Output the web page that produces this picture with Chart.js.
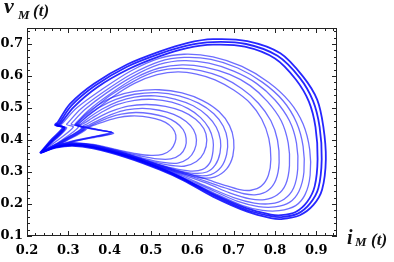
<!DOCTYPE html>
<html>
<head>
<meta charset="utf-8">
<script src="https://cdn.jsdelivr.net/npm/chart.js@4.4.0/dist/chart.umd.min.js"></script>
<style>
  body { margin: 0; background: #fff; }
  #wrap { width: 394px; height: 262px; }
</style>
</head>
<body>
<div id="wrap"><canvas id="chart" width="394" height="262"></canvas></div>
<script>
// ---- axis ticks ----
const xTicks = [0.2, 0.3, 0.4, 0.5, 0.6, 0.7, 0.8, 0.9];
const yTicks = [0.1, 0.2, 0.3, 0.4, 0.5, 0.6, 0.7];

// ---- trajectory loops (i_M, v_M) ----
// outer loops (return to the first notch)
const loopOuter1 = [[0.231,0.359],[0.27,0.376],[0.31,0.382],[0.36,0.374],[0.44,0.346],[0.52,0.308],[0.58,0.273],[0.65,0.223],[0.733,0.176],[0.79,0.156],[0.815,0.153],[0.86,0.165],[0.893,0.197],[0.914,0.245],[0.923,0.34],[0.917,0.441],[0.902,0.526],[0.868,0.598],[0.813,0.671],[0.733,0.709],[0.65,0.715],[0.587,0.703],[0.522,0.677],[0.442,0.636],[0.362,0.576],[0.304,0.513],[0.274,0.455],[0.268,0.447],[0.287,0.44],[0.258,0.40],[0.231,0.359]];
const loopOuter2 = [[0.233,0.36],[0.27,0.378],[0.31,0.384],[0.36,0.377],[0.44,0.349],[0.52,0.311],[0.58,0.276],[0.65,0.228],[0.73,0.182],[0.79,0.162],[0.815,0.159],[0.855,0.17],[0.885,0.202],[0.905,0.25],[0.913,0.34],[0.908,0.44],[0.892,0.522],[0.86,0.594],[0.806,0.663],[0.73,0.70],[0.65,0.706],[0.587,0.695],[0.522,0.67],[0.442,0.629],[0.365,0.57],[0.308,0.508],[0.277,0.452],[0.27,0.446],[0.29,0.438],[0.26,0.398],[0.233,0.36]];
const loopOuter3 = [[0.234,0.361],[0.27,0.379],[0.31,0.385],[0.36,0.378],[0.44,0.351],[0.52,0.314],[0.58,0.279],[0.65,0.232],[0.73,0.187],[0.79,0.167],[0.815,0.165],[0.85,0.175],[0.878,0.207],[0.896,0.255],[0.903,0.34],[0.898,0.44],[0.882,0.52],[0.85,0.59],[0.80,0.655],[0.727,0.692],[0.65,0.698],[0.587,0.687],[0.522,0.662],[0.445,0.621],[0.37,0.565],[0.313,0.503],[0.28,0.45],[0.273,0.445],[0.292,0.437],[0.262,0.397],[0.234,0.361]];

// middle loops
const loopMid1 = [[0.234,0.36],[0.27,0.378],[0.31,0.384],[0.36,0.377],[0.44,0.35],[0.52,0.313],[0.58,0.279],[0.65,0.236],[0.72,0.196],[0.77,0.18],[0.81,0.179],[0.85,0.195],[0.873,0.23],[0.885,0.29],[0.884,0.37],[0.868,0.45],[0.835,0.52],[0.785,0.58],[0.72,0.63],[0.65,0.66],[0.58,0.668],[0.52,0.655],[0.45,0.615],[0.38,0.557],[0.32,0.50],[0.284,0.45],[0.277,0.444],[0.296,0.437],[0.264,0.396],[0.234,0.36]];
const loopMid2 = [[0.235,0.361],[0.27,0.379],[0.31,0.385],[0.36,0.378],[0.44,0.351],[0.52,0.315],[0.58,0.282],[0.65,0.242],[0.71,0.208],[0.76,0.192],[0.80,0.191],[0.835,0.205],[0.858,0.24],[0.87,0.30],[0.868,0.38],[0.852,0.455],[0.82,0.522],[0.77,0.58],[0.71,0.625],[0.645,0.652],[0.58,0.658],[0.52,0.645],[0.45,0.604],[0.385,0.55],[0.33,0.497],[0.30,0.455],[0.296,0.448],[0.312,0.44],[0.27,0.395],[0.235,0.361]];
const loopMid3 = [[0.235,0.362],[0.27,0.38],[0.31,0.386],[0.36,0.379],[0.44,0.352],[0.52,0.317],[0.58,0.286],[0.64,0.252],[0.70,0.22],[0.75,0.203],[0.79,0.201],[0.822,0.215],[0.845,0.25],[0.855,0.31],[0.852,0.39],[0.835,0.46],[0.80,0.525],[0.755,0.577],[0.70,0.615],[0.64,0.64],[0.58,0.648],[0.52,0.636],[0.455,0.598],[0.39,0.545],[0.34,0.495],[0.31,0.455],[0.307,0.449],[0.325,0.441],[0.28,0.396],[0.235,0.362]];
const loopMid4 = [[0.236,0.362],[0.27,0.38],[0.31,0.386],[0.36,0.38],[0.44,0.353],[0.52,0.318],[0.58,0.29],[0.64,0.262],[0.69,0.235],[0.74,0.216],[0.775,0.214],[0.805,0.228],[0.826,0.262],[0.835,0.32],[0.832,0.39],[0.815,0.46],[0.782,0.52],[0.74,0.57],[0.69,0.605],[0.63,0.628],[0.575,0.635],[0.52,0.625],[0.46,0.593],[0.40,0.543],[0.35,0.494],[0.318,0.452],[0.316,0.447],[0.333,0.438],[0.285,0.397],[0.236,0.362]];
const loopMid5 = [[0.236,0.362],[0.27,0.38],[0.31,0.387],[0.36,0.38],[0.44,0.354],[0.52,0.32],[0.58,0.294],[0.635,0.27],[0.68,0.25],[0.725,0.232],[0.755,0.229],[0.783,0.242],[0.802,0.275],[0.81,0.33],[0.806,0.40],[0.79,0.46],[0.76,0.515],[0.72,0.56],[0.67,0.597],[0.62,0.617],[0.57,0.624],[0.515,0.615],[0.46,0.585],[0.40,0.538],[0.355,0.49],[0.32,0.452],[0.317,0.447],[0.335,0.438],[0.285,0.398],[0.236,0.362]];
const loopMid6 = [[0.237,0.363],[0.27,0.381],[0.31,0.387],[0.36,0.381],[0.44,0.355],[0.52,0.322],[0.58,0.298],[0.63,0.279],[0.675,0.26],[0.715,0.245],[0.742,0.243],[0.767,0.256],[0.784,0.29],[0.79,0.34],[0.785,0.405],[0.768,0.465],[0.74,0.515],[0.70,0.556],[0.655,0.588],[0.61,0.606],[0.565,0.613],[0.515,0.604],[0.46,0.577],[0.405,0.533],[0.36,0.488],[0.325,0.452],[0.32,0.447],[0.337,0.438],[0.287,0.398],[0.237,0.363]];

// smaller loops (second notch)
const loopSmall1 = [[0.236,0.362],[0.27,0.381],[0.31,0.387],[0.36,0.38],[0.44,0.354],[0.51,0.323],[0.57,0.297],[0.62,0.282],[0.655,0.285],[0.683,0.31],[0.698,0.35],[0.70,0.40],[0.69,0.445],[0.665,0.488],[0.625,0.523],[0.575,0.547],[0.52,0.557],[0.46,0.552],[0.41,0.535],[0.37,0.508],[0.34,0.478],[0.32,0.45],[0.318,0.447],[0.338,0.436],[0.29,0.398],[0.236,0.362]];
const loopSmall2 = [[0.237,0.363],[0.27,0.382],[0.31,0.388],[0.36,0.381],[0.44,0.355],[0.51,0.325],[0.565,0.302],[0.612,0.289],[0.645,0.292],[0.67,0.316],[0.683,0.355],[0.685,0.40],[0.675,0.443],[0.652,0.482],[0.615,0.515],[0.568,0.538],[0.515,0.548],[0.46,0.543],[0.415,0.527],[0.375,0.502],[0.345,0.474],[0.325,0.45],[0.32,0.446],[0.34,0.436],[0.292,0.398],[0.237,0.363]];
const loopSmall3 = [[0.237,0.363],[0.27,0.382],[0.31,0.388],[0.36,0.382],[0.44,0.356],[0.505,0.328],[0.56,0.307],[0.603,0.296],[0.635,0.30],[0.656,0.323],[0.667,0.36],[0.668,0.40],[0.658,0.44],[0.636,0.476],[0.602,0.507],[0.558,0.528],[0.51,0.538],[0.46,0.534],[0.42,0.52],[0.382,0.497],[0.352,0.472],[0.33,0.45],[0.322,0.446],[0.342,0.436],[0.295,0.399],[0.237,0.363]];
const loopSmall4 = [[0.238,0.363],[0.27,0.382],[0.31,0.389],[0.36,0.382],[0.44,0.357],[0.50,0.331],[0.553,0.312],[0.595,0.303],[0.625,0.308],[0.643,0.33],[0.65,0.365],[0.65,0.40],[0.64,0.437],[0.62,0.47],[0.59,0.498],[0.55,0.518],[0.505,0.527],[0.46,0.524],[0.42,0.511],[0.385,0.49],[0.357,0.468],[0.335,0.45],[0.325,0.446],[0.345,0.436],[0.297,0.399],[0.238,0.363]];

// innermost loops (end in the spike near 0.41)
const loopInner1 = [[0.238,0.364],[0.27,0.383],[0.31,0.389],[0.36,0.383],[0.43,0.36],[0.49,0.337],[0.54,0.322],[0.58,0.318],[0.61,0.333],[0.628,0.36],[0.635,0.40],[0.628,0.435],[0.608,0.465],[0.575,0.49],[0.535,0.505],[0.49,0.511],[0.445,0.506],[0.405,0.49],[0.372,0.47],[0.345,0.45],[0.336,0.443],[0.37,0.433],[0.41,0.421],[0.37,0.41],[0.31,0.394],[0.27,0.378],[0.238,0.364]];
const loopInner2 = [[0.238,0.364],[0.27,0.383],[0.31,0.39],[0.36,0.384],[0.43,0.362],[0.485,0.342],[0.53,0.33],[0.565,0.328],[0.59,0.342],[0.605,0.368],[0.61,0.40],[0.603,0.432],[0.585,0.458],[0.555,0.48],[0.52,0.493],[0.48,0.499],[0.44,0.494],[0.405,0.48],[0.375,0.463],[0.35,0.447],[0.34,0.441],[0.372,0.432],[0.408,0.422],[0.37,0.411],[0.31,0.395],[0.27,0.379],[0.238,0.364]];
const loopInner3 = [[0.239,0.364],[0.27,0.384],[0.31,0.39],[0.36,0.385],[0.425,0.365],[0.475,0.35],[0.515,0.341],[0.548,0.341],[0.571,0.355],[0.583,0.378],[0.585,0.405],[0.578,0.432],[0.56,0.455],[0.533,0.472],[0.50,0.482],[0.463,0.486],[0.428,0.481],[0.398,0.47],[0.372,0.456],[0.352,0.444],[0.343,0.44],[0.374,0.431],[0.406,0.423],[0.37,0.412],[0.31,0.396],[0.27,0.38],[0.239,0.364]];
const loopInner4 = [[0.239,0.365],[0.27,0.384],[0.31,0.391],[0.36,0.386],[0.42,0.369],[0.465,0.357],[0.50,0.352],[0.528,0.355],[0.548,0.37],[0.558,0.392],[0.56,0.415],[0.552,0.437],[0.535,0.455],[0.51,0.467],[0.48,0.474],[0.45,0.475],[0.42,0.47],[0.392,0.46],[0.37,0.45],[0.353,0.442],[0.346,0.438],[0.376,0.43],[0.404,0.424],[0.37,0.413],[0.31,0.397],[0.27,0.381],[0.239,0.365]];

const loops = [
    loopOuter1, loopOuter2, loopOuter3,
    loopMid1, loopMid2, loopMid3, loopMid4, loopMid5, loopMid6,
    loopSmall1, loopSmall2, loopSmall3, loopSmall4,
    loopInner1, loopInner2, loopInner3, loopInner4
];

// ===================================================
// FRAME, INWARD TICKS AND AXIS TITLES
// ===================================================
const framePlugin = {
    id: 'frame',
    afterDraw(chart) {
        const ctx = chart.ctx;
        const a = chart.chartArea;
        const xs = chart.scales.x;
        const ys = chart.scales.y;
        ctx.save();
        ctx.strokeStyle = '#222';
        ctx.lineWidth = 1;
        ctx.strokeRect(a.left + 0.5, a.top + 0.5, a.right - a.left - 1, a.bottom - a.top - 1);

        ctx.beginPath();
        for (let i = 0; i <= 37; i++) {
            const v = 0.2 + i * 0.02;
            const px = Math.round(xs.getPixelForValue(v)) + 0.5;
            const len = (i % 5 === 0) ? 5 : 3;
            ctx.moveTo(px, a.bottom); ctx.lineTo(px, a.bottom - len);
            ctx.moveTo(px, a.top); ctx.lineTo(px, a.top + len);
        }
        for (let i = 0; i <= 32; i++) {
            const v = 0.1 + i * 0.02;
            const py = Math.round(ys.getPixelForValue(v)) + 0.5;
            const len = (i % 5 === 0) ? 5 : 3;
            ctx.moveTo(a.left, py); ctx.lineTo(a.left + len, py);
            ctx.moveTo(a.right, py); ctx.lineTo(a.right - len, py);
        }
        ctx.stroke();

        // axis titles
        ctx.fillStyle = '#111';
        ctx.textBaseline = 'alphabetic';
        ctx.font = 'italic bold 22px "Liberation Serif"';
        ctx.fillText('v', 4, 13);
        ctx.font = 'italic bold 13px "Liberation Serif"';
        ctx.fillText('M', 18, 19);
        ctx.font = 'italic bold 17px "Liberation Serif"';
        ctx.fillText('(t)', 33, 16);

        ctx.font = 'italic bold 20px "Liberation Serif"';
        ctx.fillText('i', 347, 244);
        ctx.font = 'italic bold 13px "Liberation Serif"';
        ctx.fillText('M', 355, 246);
        ctx.font = 'italic bold 17px "Liberation Serif"';
        ctx.fillText('(t)', 371, 245);
        ctx.restore();
    }
};

const tickFont = { family: '"DejaVu Serif"', size: 13, weight: 'bold' };

new Chart(document.getElementById('chart'), {
    type: 'scatter',
    data: {
        datasets: loops.map((pts, i) => ({
            data: pts.map(p => ({ x: p[0], y: p[1] })),
            showLine: true,
            tension: 0.3,
            pointRadius: 0,
            borderWidth: i < 3 ? 1.8 : 1.3,
            borderColor: i < 3 ? 'rgba(0,0,255,0.85)' : 'rgba(20,20,255,0.62)',
            fill: false
        }))
    },
    options: {
        responsive: false,
        animation: false,
        layout: { padding: { top: 28, right: 57, left: 0, bottom: 0 } },
        plugins: { legend: { display: false }, tooltip: { enabled: false } },
        scales: {
            x: {
                type: 'linear',
                min: 0.2, max: 0.95,
                afterFit: s => { s.height = 26; },
                afterBuildTicks: s => { s.ticks = xTicks.map(v => ({ value: v })); },
                grid: { display: false, drawTicks: false },
                border: { display: false },
                ticks: {
                    autoSkip: false, maxRotation: 0, padding: 7,
                    color: '#000', font: tickFont,
                    callback: v => v.toFixed(1)
                }
            },
            y: {
                type: 'linear',
                min: 0.1, max: 0.75,
                afterFit: s => { s.width = 27; },
                afterBuildTicks: s => { s.ticks = yTicks.map(v => ({ value: v })); },
                grid: { display: false, drawTicks: false },
                border: { display: false },
                ticks: {
                    autoSkip: false, padding: 4,
                    color: '#000', font: tickFont,
                    callback: v => v.toFixed(1)
                }
            }
        }
    },
    plugins: [framePlugin]
});
</script>
</body>
</html>
